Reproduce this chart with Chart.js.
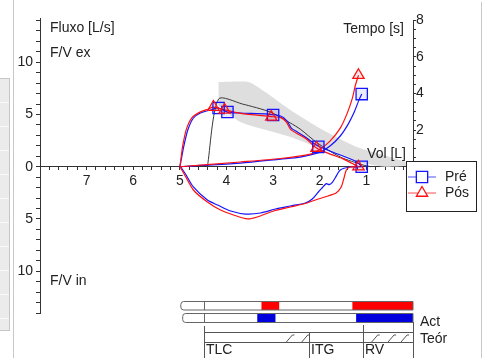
<!DOCTYPE html>
<html><head><meta charset="utf-8">
<script src="https://cdn.jsdelivr.net/npm/chart.js@4.4.0/dist/chart.umd.min.js"></script>
<style>html,body{margin:0;padding:0;background:#fff;}#wrap{width:486px;height:358px;}</style>
</head><body><div id="wrap"><canvas id="c" width="486" height="358"></canvas></div>
<script>
// ---------- DATA ----------
// Predicted (teórico) flow-volume curve and predicted band
const predVol  = [4.41, 4.17, 3.66, 3.06, 2.63, 2.42, 2.05, 1.56, 1.07, 0.90];
const predFlow = [0.00, 6.48, 6.00, 5.23, 4.18, 3.60, 2.27, 0.93, 0.16, 0.00];
const bandUpperVol  = [4.17, 3.53, 3.17, 2.63, 1.93, 1.20, 0.28, 0.02];
const bandUpperFlow = [8.11, 8.11, 7.15, 5.43, 3.51, 1.88, 0.64, 0.16];
const bandLowerVol  = [0.60, 1.07, 1.78, 2.63, 3.70, 4.17];
const bandLowerFlow = [0.00, 0.35, 1.41, 2.84, 4.27, 5.91];

// Pré: expiratory + inspiratory
const preExpVol  = [5.00, 4.96, 4.92, 4.83, 4.71, 4.56, 4.34, 4.17, 3.98, 3.70, 3.12, 2.84, 2.70, 2.61, 2.48, 2.31, 2.14, 1.99, 1.56, 1.20, 1.10];
const preExpFlow = [0.00, 0.93, 1.88, 3.51, 4.66, 5.14, 5.43, 5.62, 5.23, 5.14, 5.04, 4.85, 4.37, 3.70, 3.32, 2.84, 2.27, 1.88, 1.12, 0.45, 0.00];
const preInVol   = [1.10, 1.35, 1.56, 1.67, 1.73, 1.80, 1.86, 1.95, 2.03, 2.16, 2.31, 2.63, 2.95, 3.27, 3.59, 3.91, 4.19, 4.41, 4.71, 4.88, 4.97, 5.00];
const preInFlow  = [0.00, -0.03, -0.32, -1.08, -1.50, -1.72, -1.62, -2.04, -2.42, -3.09, -3.47, -3.76, -4.05, -4.43, -4.53, -4.24, -3.67, -3.19, -1.94, -0.70, -0.10, 0.00];
// Pós: expiratory + inspiratory
const posExpVol  = [5.00, 4.97, 4.94, 4.86, 4.74, 4.58, 4.40, 4.28, 4.04, 3.70, 3.04, 2.84, 2.72, 2.63, 2.50, 2.30, 2.07, 1.80, 1.50, 1.30, 1.17];
const posExpFlow = [0.00, 1.00, 2.00, 3.60, 4.70, 5.20, 5.50, 5.71, 5.43, 5.10, 4.80, 4.70, 4.30, 3.60, 3.20, 2.70, 1.79, 1.25, 0.75, 0.30, 0.00];
const posInVol   = [1.17, 1.35, 1.43, 1.48, 1.54, 1.65, 1.82, 2.03, 2.27, 2.63, 2.99, 3.34, 3.55, 3.85, 4.13, 4.41, 4.71, 4.92, 5.00];
const posInFlow  = [0.00, -0.03, -0.32, -1.08, -1.94, -2.52, -2.80, -3.09, -3.47, -3.86, -4.24, -4.81, -5.00, -4.62, -4.14, -3.38, -2.23, -0.60, 0.00];

// Volume-time curves (Tempo [s])
const preTimeVol = [5.00, 4.56, 3.70, 2.84, 2.42, 1.99, 1.78, 1.56, 1.39, 1.26, 1.16, 1.10];
const preTime    = [0.00, 0.07, 0.20, 0.42, 0.53, 0.80, 1.13, 1.68, 2.33, 2.99, 3.64, 3.97];
const posTimeVol = [5.00, 3.70, 2.84, 2.20, 1.99, 1.78, 1.56, 1.41, 1.30, 1.24, 1.17];
const posTime    = [0.00, 0.26, 0.45, 0.69, 0.97, 1.40, 2.11, 2.93, 3.75, 4.41, 5.00];

// Markers
const preMarkVol  = [4.17, 3.98, 3.00, 2.03, 1.10];
const preMarkFlow = [5.62, 5.23, 4.95, 1.90, 0.00];
const posMarkVol  = [4.28, 4.04, 3.04, 2.07, 1.17];
const posMarkFlow = [5.71, 5.43, 4.76, 1.79, 0.00];
const preTimeMarkVol = [1.10], preTimeMark = [3.97];
const posTimeMarkVol = [1.17], posTimeMark = [5.00];

// Tick labels
const xTickLabels  = [1, 2, 3, 4, 5, 6, 7];
const yTickLabels  = [0, 5, 10];
const y2TickLabels = [2, 4, 6, 8];

// Lung volume strip (volumes in L)
const posActBox = [4.98, 0], preActBox = [4.94, 0];
const actDivider = 4.49;
const posActSegments = [[3.25, 2.87], [1.30, 0]];
const preActSegments = [[3.34, 2.95], [1.22, 0]];
const teorNames  = ['TLC', 'ITG', 'RV'];
const teorValues = [4.49, 2.22, 1.07];
const teorTicks  = [2.63, 2.30, 0.80, 0.45, 0.17];

// ---------- CHART ----------
const zip = (a, b) => a.map((v, i) => ({x: v, y: b[i]}));
const FONT = '"Liberation Sans", Arial, sans-serif';
Chart.defaults.font.family = FONT;
Chart.defaults.font.size = 14;
Chart.defaults.color = '#222';

const BLUE = '#1414ff', RED = '#ff1010';
const bandPoly = zip(bandUpperVol, bandUpperFlow).concat(zip(bandLowerVol, bandLowerFlow));

const deco = {
  id: 'deco',
  beforeDraw(chart) {
    const ctx = chart.ctx;
    ctx.save();
    ctx.fillStyle = '#fff'; ctx.fillRect(0, 0, chart.width, chart.height);
    ctx.fillStyle = '#ebebeb'; ctx.fillRect(0, 78, 10, 252);
    ctx.strokeStyle = '#c6c6c6'; ctx.lineWidth = 1;
    ctx.strokeRect(-0.5, 78.5, 10, 252);
    ctx.strokeStyle = '#fafafa';
    for (let y = 102.5; y < 330; y += 24) { ctx.beginPath(); ctx.moveTo(0, y); ctx.lineTo(9, y); ctx.stroke(); }
    ctx.strokeStyle = '#c8c8c8';
    ctx.beginPath(); ctx.moveTo(13.5, 0); ctx.lineTo(13.5, 358); ctx.stroke();
    ctx.beginPath(); ctx.moveTo(481.5, 2); ctx.lineTo(481.5, 358); ctx.stroke();
    ctx.restore();
  },
  afterDraw(chart) {
    const ctx = chart.ctx, xs = chart.scales.x, y2 = chart.scales.y2;
    const px = v => xs.getPixelForValue(v);
    ctx.save();
    // time axis line
    ctx.strokeStyle = '#333'; ctx.lineWidth = 1;
    const ax = Math.round(chart.chartArea.right) + 0.5;
    ctx.beginPath(); ctx.moveTo(ax, y2.getPixelForValue(8)); ctx.lineTo(ax, y2.getPixelForValue(0)); ctx.stroke();
    // texts
    ctx.fillStyle = '#222'; ctx.font = '14px ' + FONT; ctx.textBaseline = 'middle';
    ctx.textAlign = 'left';
    ctx.fillText('Fluxo [L/s]', 50, 28);
    ctx.fillText('F/V ex', 50, 53);
    ctx.fillText('F/V in', 50, 281);
    ctx.textAlign = 'right';
    ctx.fillText('Tempo [s]', 404, 29);
    ctx.fillText('Vol [L]', 406, 154);
    ctx.textAlign = 'left';
    ctx.fillText('Act', 420, 322);
    ctx.fillText('Teór', 420, 339);
    // lung strip rows
    const row = (y, h, box, segs, color) => {
      const x0 = px(box[0]), x1 = px(box[1]);
      ctx.beginPath();
      ctx.moveTo(x1, y); ctx.lineTo(x0 + 3, y); ctx.quadraticCurveTo(x0, y, x0, y + 3);
      ctx.lineTo(x0, y + h - 3); ctx.quadraticCurveTo(x0, y + h, x0 + 3, y + h); ctx.lineTo(x1, y + h); ctx.closePath();
      ctx.fillStyle = '#fff'; ctx.fill();
      segs.forEach(s => { ctx.fillStyle = color; ctx.fillRect(px(s[0]), y, px(s[1]) - px(s[0]), h); });
      ctx.strokeStyle = '#666'; ctx.lineWidth = 1; ctx.stroke();
      const d = Math.round(px(actDivider)) + 0.5;
      ctx.beginPath(); ctx.moveTo(d, y); ctx.lineTo(d, y + h); ctx.stroke();
    };
    row(301.5, 8.5, posActBox, posActSegments, '#ff0000');
    row(313.5, 9, preActBox, preActSegments, '#0000dd');
    // Teór
    ctx.strokeStyle = '#555'; ctx.lineWidth = 1;
    const xT = Math.round(px(teorValues[0])) + 0.5, xE = Math.round(px(0)) + 0.5;
    ctx.beginPath();
    ctx.moveTo(xT, 332.5); ctx.lineTo(xE, 332.5);
    ctx.moveTo(xT, 342.5); ctx.lineTo(xE, 342.5);
    ctx.moveTo(xE, 322); ctx.lineTo(xE, 358);
    ctx.stroke();
    const vTop = [326, 333, 325];
    teorValues.forEach((v, i) => {
      const x = Math.round(px(v)) + 0.5;
      ctx.beginPath(); ctx.moveTo(x, vTop[i]); ctx.lineTo(x, 358); ctx.stroke();
      ctx.fillStyle = '#222'; ctx.textAlign = 'left'; ctx.textBaseline = 'middle';
      ctx.fillText(teorNames[i], x + 1.5, 350);
    });
    teorTicks.forEach(v => {
      const x = px(v);
      ctx.beginPath(); ctx.moveTo(x - 4, 342); ctx.lineTo(x + 2, 335); ctx.lineTo(x + 4, 335); ctx.stroke();
    });
    // legend
    ctx.fillStyle = '#fff'; ctx.fillRect(406.5, 161.5, 70, 50);
    ctx.strokeStyle = '#222'; ctx.strokeRect(406.5, 161.5, 70, 50);
    const items = [
      {label: chart.data.datasets[2].label, color: BLUE, light: '#8a8aff', style: 'rect', r: 8, y: 177},
      {label: chart.data.datasets[4].label, color: RED, light: '#ff8a8a', style: 'triangle', r: 6.5, y: 193}
    ];
    items.forEach(it => {
      ctx.strokeStyle = it.light; ctx.lineWidth = 1.5;
      ctx.beginPath(); ctx.moveTo(408, it.y); ctx.lineTo(436, it.y); ctx.stroke();
      ctx.strokeStyle = it.color; ctx.fillStyle = '#fff'; ctx.lineWidth = 1.3;
      Chart.helpers.drawPoint(ctx, {pointStyle: it.style, radius: it.r, borderWidth: 1.3, rotation: 0}, 422, it.y);
      ctx.fillStyle = '#222'; ctx.textAlign = 'left'; ctx.textBaseline = 'middle';
      ctx.font = '14px ' + FONT;
      ctx.fillText(it.label, 445, it.y);
    });
    ctx.restore();
  }
};

const lineDs = (label, data, color, width, order, axis) => ({
  type: 'line', label, data, borderColor: color, borderWidth: width, pointRadius: 0,
  fill: false, tension: 0.25, order, yAxisID: axis || 'y'
});
const markDs = (label, data, color, fillc, style, r, order, axis) => ({
  type: 'scatter', label, data, showLine: false, pointStyle: style, pointRadius: r,
  pointBorderColor: color, pointBackgroundColor: fillc, pointBorderWidth: 1.3, order, yAxisID: axis || 'y'
});

new Chart(document.getElementById('c'), {
  type: 'scatter',
  data: { datasets: [
    {type: 'line', label: 'band', data: bandPoly, fill: 'shape', backgroundColor: '#dedede',
     borderWidth: 0, borderColor: 'rgba(0,0,0,0)', pointRadius: 0, tension: 0.2, order: 10},
    lineDs('Teórico', zip(predVol, predFlow), '#3a3a3a', 1, 9),
    lineDs('Pré', zip(preExpVol, preExpFlow).concat(zip(preInVol, preInFlow)), BLUE, 1.2, 6),
    lineDs('Pré tempo', zip(preTimeVol, preTime), BLUE, 1.2, 6, 'y2'),
    lineDs('Pós', zip(posExpVol, posExpFlow).concat(zip(posInVol, posInFlow)), RED, 1.2, 5),
    lineDs('Pós tempo', zip(posTimeVol, posTime), RED, 1.2, 5, 'y2'),
    markDs('Pré pontos', zip(preMarkVol, preMarkFlow), BLUE, 'rgba(0,0,255,0.08)', 'rect', 8, 2),
    markDs('Pré fim', zip(preTimeMarkVol, preTimeMark), BLUE, 'rgba(0,0,255,0.08)', 'rect', 8, 2, 'y2'),
    markDs('Pós pontos', zip(posMarkVol, posMarkFlow), RED, 'rgba(255,0,0,0.08)', 'triangle', 6.5, 1),
    markDs('Pós fim', zip(posTimeMarkVol, posTimeMark), RED, 'rgba(255,0,0,0.08)', 'triangle', 6.5, 1, 'y2')
  ]},
  options: {
    responsive: false, animation: false, devicePixelRatio: 1,
    layout: {padding: {top: 18, bottom: 45, left: 0, right: 0}},
    plugins: {legend: {display: false}, tooltip: {enabled: false}},
    scales: {
      x: {
        type: 'linear', reverse: true, min: 0, max: 8, position: {y: 0},
        afterFit: s => { s.height = 0; },
        grid: {drawOnChartArea: false, drawTicks: true, tickLength: 3, tickColor: '#333'},
        border: {display: true, color: '#333'},
        ticks: {stepSize: 0.2, autoSkip: false, maxRotation: 0, minRotation: 0, padding: 3, includeBounds: false,
          callback: v => { const r = Math.round(v * 10) / 10; return xTickLabels.includes(r) ? String(r) : ''; }}
      },
      y: {
        type: 'linear', position: 'left', min: -14, max: 14.23,
        afterFit: s => { s.width = 40; },
        grid: {drawOnChartArea: false, drawTicks: true, tickLength: 4, tickColor: '#333'},
        border: {display: true, color: '#333'},
        ticks: {stepSize: 1, autoSkip: false, padding: 3, includeBounds: false,
          callback: v => yTickLabels.includes(Math.abs(v)) ? String(Math.abs(v)) : ''}
      },
      y2: {
        type: 'linear', position: 'right', min: -7.99, max: 8.126,
        afterFit: s => { s.width = 73; },
        grid: {drawOnChartArea: false, drawTicks: true, tickLength: 3,
          tickColor: c => (c.tick && c.tick.value >= 0) ? '#333' : 'rgba(0,0,0,0)'},
        border: {display: false},
        ticks: {stepSize: 0.5, autoSkip: false, padding: 0, includeBounds: false,
          callback: v => y2TickLabels.includes(v) ? String(v) : ''}
      }
    }
  },
  plugins: [deco]
});
</script></body></html>
